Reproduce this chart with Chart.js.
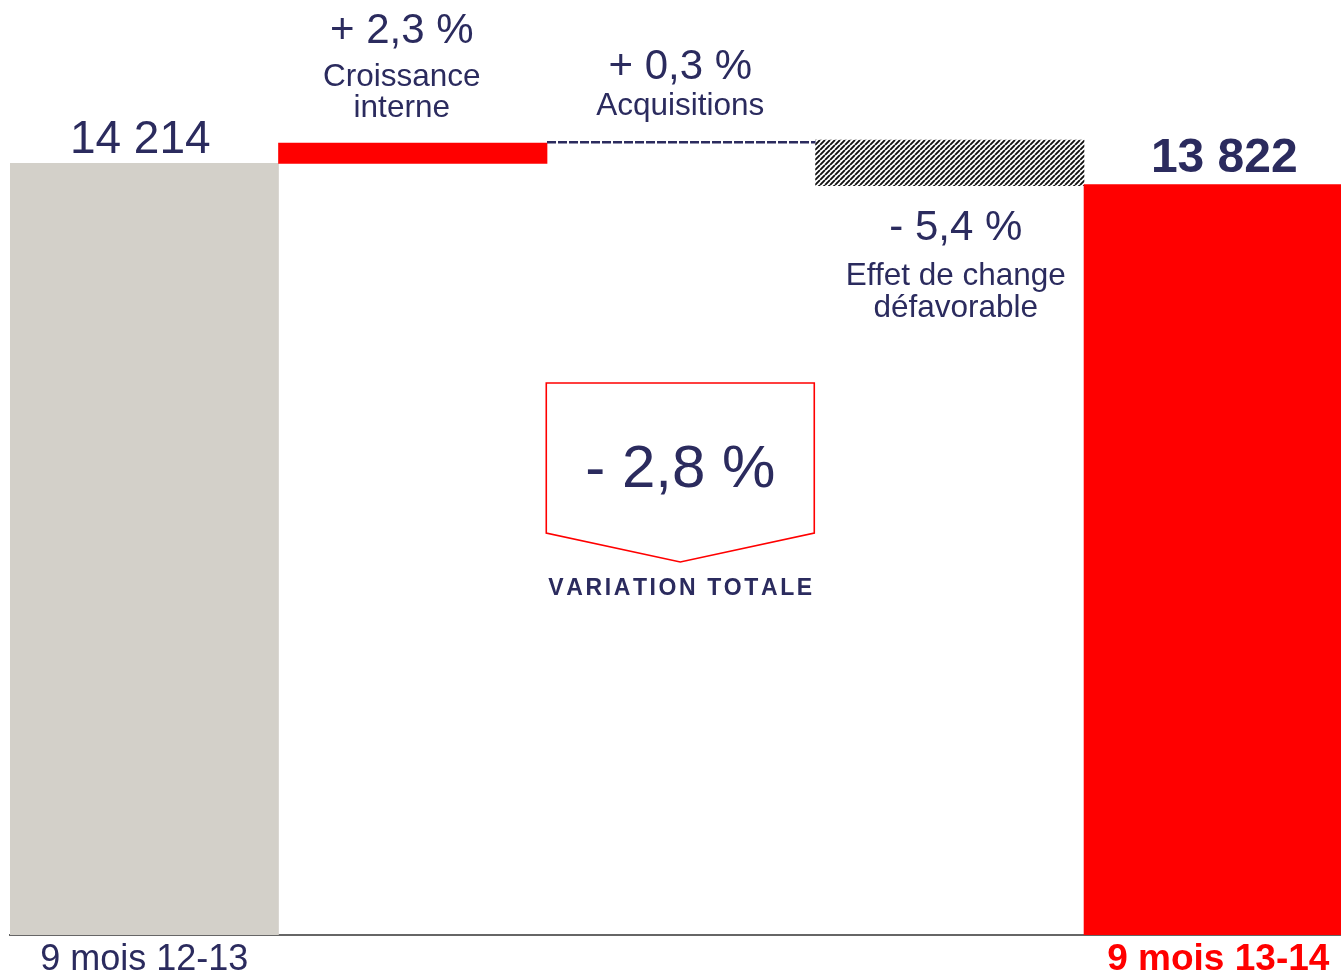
<!DOCTYPE html>
<html><head><meta charset="utf-8">
<script src="https://cdn.jsdelivr.net/npm/chart.js@4/dist/chart.umd.min.js"></script>
<style>html,body{margin:0;padding:0;background:#fff;overflow:hidden}#wrap{width:1341px;height:977px}</style>
</head><body><div id="wrap"><canvas id="c" width="1341" height="977"></canvas></div>
<script>
// ---- data ----
const categories = ['9 mois 12-13', 'Croissance interne', 'Acquisitions', 'Effet de change défavorable', '9 mois 13-14'];
const axisLabels = ['9 mois 12-13', '', '', '', '9 mois 13-14'];
const barLow  = [0, 14214, null, 13800, 0];
const barHigh = [14214, 14585, null, 14640, 13822];
const lineLevel = [null, null, 14600, null, null];   // acquisitions shown as dashed level
const changeLabels = ['', '+ 2,3 %', '+ 0,3 %', '- 5,4 %', ''];
const changeNames = [[], ['Croissance', 'interne'], ['Acquisitions'], ['Effet de change', 'défavorable'], []];
const totalLabels = ['14 214', '', '', '', '13 822'];
const totalVariation = '- 2,8 %';
const totalVariationTitle = 'VARIATION TOTALE';

const NAVY = '#2b2b5e', RED = '#ff0000', GREY = '#d3d0c9';
const FONT = '"Liberation Sans", Arial, sans-serif';

const canvas = document.getElementById('c');
const ctx = canvas.getContext('2d');

function hatchPattern() {
  const s = 5, t = document.createElement('canvas');
  t.width = s; t.height = s;
  const g = t.getContext('2d');
  g.fillStyle = '#fff'; g.fillRect(0, 0, s, s);
  g.strokeStyle = '#111'; g.lineWidth = 1.9;
  g.beginPath();
  for (let k = -1; k <= 1; k++) { g.moveTo(k * s, s); g.lineTo(k * s + s, 0); }
  g.stroke();
  return ctx.createPattern(t, 'repeat');
}
const barColors = [GREY, RED, null, hatchPattern(), RED];

const barData = [], bg = [];
categories.forEach((c, i) => {
  if (barLow[i] !== null) { barData.push({x: i, y: [barLow[i], barHigh[i]]}); bg.push(barColors[i]); }
});
const lineData = [];
lineLevel.forEach((v, i) => { if (v !== null) { lineData.push({x: i - 0.5, y: v}, {x: i + 0.5, y: v}); } });

function txt(c, s, x, y, font, color, align) {
  c.font = font; c.fillStyle = color; c.textAlign = align || 'center'; c.textBaseline = 'alphabetic';
  c.fillText(s, x, y);
}
function spaced(c, s, cx, y, font, color, ls) {
  c.font = font; c.fillStyle = color; c.textAlign = 'left'; c.textBaseline = 'alphabetic';
  let w = 0; for (const ch of s) w += c.measureText(ch).width + ls; w -= ls;
  let x = cx - w / 2;
  for (const ch of s) { c.fillText(ch, x, y); x += c.measureText(ch).width + ls; }
}

const annotations = {
  id: 'annotations',
  afterDraw(chart) {
    const c = chart.ctx, xs = chart.scales.x, ys = chart.scales.y;
    c.save();
    // totals
    txt(c, totalLabels[0], xs.getPixelForValue(0) - 4, ys.getPixelForValue(barHigh[0]) - 10, '46px ' + FONT, NAVY);
    txt(c, totalLabels[4], xs.getPixelForValue(4) + 6, ys.getPixelForValue(barHigh[4]) - 13, 'bold 48px ' + FONT, NAVY);
    // croissance interne
    let x = xs.getPixelForValue(1) - 11, top = ys.getPixelForValue(barHigh[1]);
    txt(c, changeLabels[1], x, top - 100, '42px ' + FONT, NAVY);
    txt(c, changeNames[1][0], x, top - 57, '31.5px ' + FONT, NAVY);
    txt(c, changeNames[1][1], x, top - 26, '31.5px ' + FONT, NAVY);
    // acquisitions
    x = xs.getPixelForValue(2) - 1; top = ys.getPixelForValue(lineLevel[2]);
    txt(c, changeLabels[2], x, top - 63, '42px ' + FONT, NAVY);
    txt(c, changeNames[2][0], x, top - 27, '31.5px ' + FONT, NAVY);
    // change
    x = xs.getPixelForValue(3) + 6; const bot = ys.getPixelForValue(barLow[3]);
    txt(c, changeLabels[3], x, bot + 54, '42px ' + FONT, NAVY);
    txt(c, changeNames[3][0], x, bot + 99, '31.5px ' + FONT, NAVY);
    txt(c, changeNames[3][1], x, bot + 131, '31.5px ' + FONT, NAVY);
    // total variation box
    const cx = xs.getPixelForValue(2) - 1;
    const l = cx - 134, r = cx + 134;
    c.strokeStyle = RED; c.lineWidth = 1.6;
    c.beginPath();
    c.moveTo(l, 383); c.lineTo(r, 383); c.lineTo(r, 533); c.lineTo(cx, 562); c.lineTo(l, 533); c.closePath();
    c.stroke();
    txt(c, totalVariation, cx, 487, '60px ' + FONT, NAVY);
    spaced(c, totalVariationTitle, cx, 595, 'bold 23px ' + FONT, NAVY, 2.6);
    c.restore();
  }
};

new Chart(ctx, {
  type: 'bar',
  data: {
    datasets: [
      {type: 'line', data: lineData, borderColor: NAVY, borderWidth: 2.5, borderDash: [9, 2],
       pointRadius: 0, fill: false, order: 1},
      {type: 'bar', data: barData, backgroundColor: bg, borderWidth: 0,
       barPercentage: 1, categoryPercentage: 1, order: 2}
    ]
  },
  options: {
    responsive: false, animation: false,
    layout: {padding: {left: 10, right: 0, top: 0, bottom: 0}},
    plugins: {legend: {display: false}, tooltip: {enabled: false}},
    scales: {
      x: {
        type: 'linear', min: -0.5, max: 4.457, offset: false,
        grid: {display: false, drawTicks: false, offset: false},
        border: {display: true, color: '#666', width: 2},
        afterBuildTicks: s => { s.ticks = [{value: 0}, {value: 4}]; },
        afterFit: s => { s.height = 42; },
        ticks: {
          autoSkip: false, maxRotation: 0, padding: 3,
          callback: v => axisLabels[v],
          color: c => (c.index === 1 ? RED : NAVY),
          font: c => (c.index === 1 ? {family: FONT, size: 37, weight: 'bold'} : {family: FONT, size: 36, weight: 'normal'})
        }
      },
      y: {display: false, min: 0, max: 17222}
    }
  },
  plugins: [annotations]
});
</script>
</body></html>
